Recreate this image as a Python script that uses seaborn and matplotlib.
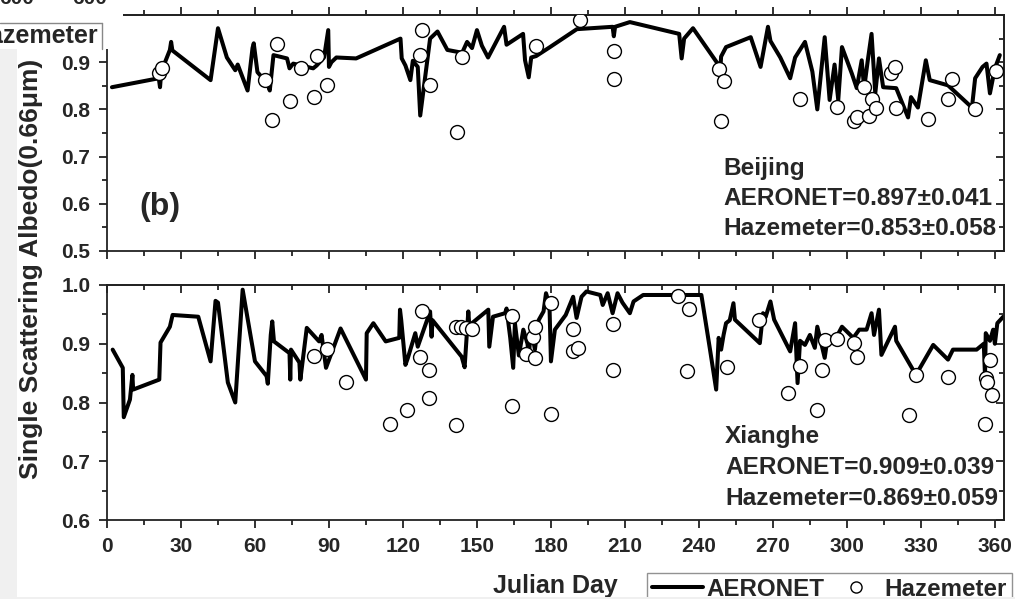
import numpy as np
import pandas as pd
import matplotlib
matplotlib.use("Agg")
import matplotlib.pyplot as plt
import seaborn as sns
from matplotlib.lines import Line2D
from matplotlib.patches import Rectangle
from matplotlib.ticker import MultipleLocator

# ---------------- data ----------------
bj_aero_day = [2, 21, 21.5, 22, 25.5, 26, 26.5, 42, 45, 48.6, 52, 53, 57, 59, 59.5, 61, 65, 66, 67.5, 73, 74,
               75.5, 83.6, 85, 88, 89.7, 90, 91, 93, 101, 119, 119.5, 121, 123, 124, 126, 127, 131, 134, 138,
               144, 146, 148, 150, 152, 154.5, 161, 162, 168.7, 169.5, 171, 172, 174, 179.6, 190.5, 205,
               205.5, 206, 212, 232, 233, 234, 237.6, 248, 248.5, 249, 251, 261, 265, 268, 269, 273, 277,
               279, 283, 286, 288, 291, 293, 295, 296.5, 298, 302, 304, 306, 307, 308.5, 310, 311.5, 313,
               314.7, 320, 324.8, 326, 328.8, 332, 333.6, 341, 350.7, 352, 355, 356.6, 358, 360, 362]
bj_aero_ssa = [0.847, 0.866, 0.847, 0.880, 0.926, 0.943, 0.925, 0.862, 0.972, 0.910, 0.883, 0.895, 0.840,
               0.930, 0.940, 0.879, 0.855, 0.840, 0.915, 0.908, 0.887, 0.897, 0.887, 0.893, 0.910, 0.968,
               0.890, 0.900, 0.910, 0.908, 0.950, 0.908, 0.893, 0.862, 0.903, 0.890, 0.787, 0.950, 0.965,
               0.926, 0.920, 0.943, 0.930, 0.968, 0.935, 0.910, 0.975, 0.937, 0.960, 0.904, 0.868, 0.910,
               0.913, 0.932, 0.970, 0.975, 0.955, 0.975, 0.985, 0.960, 0.908, 0.950, 0.972, 0.894, 0.870,
               0.912, 0.932, 0.953, 0.890, 0.975, 0.945, 0.910, 0.866, 0.910, 0.943, 0.880, 0.800, 0.953,
               0.820, 0.895, 0.820, 0.932, 0.876, 0.845, 0.904, 0.845, 0.905, 0.960, 0.834, 0.908, 0.847,
               0.845, 0.783, 0.826, 0.804, 0.904, 0.862, 0.851, 0.804, 0.866, 0.890, 0.897, 0.834, 0.887,
               0.915]

bj_haze_day = [21.2, 22.4, 64, 67, 69, 74, 78.7, 83.8, 85, 89, 127, 127.7, 131, 142, 144, 174, 191.8, 205.5,
               205.5, 248, 249, 250, 281, 296, 303, 304, 307, 309, 310, 312, 318, 319.5, 320, 333, 341,
               342.6, 352, 360.4]
bj_haze_ssa = [0.877, 0.887, 0.863, 0.778, 0.938, 0.817, 0.887, 0.826, 0.913, 0.851, 0.915, 0.968, 0.851,
               0.753, 0.911, 0.934, 0.989, 0.924, 0.864, 0.885, 0.775, 0.860, 0.823, 0.806, 0.775, 0.783,
               0.847, 0.787, 0.821, 0.804, 0.878, 0.889, 0.804, 0.780, 0.821, 0.864, 0.800, 0.881]

xh_aero_day = [2.3, 6.4, 6.8, 9.3, 10.3, 10.6, 21.2, 21.7, 25.5, 26.6, 37, 42, 44, 45, 49, 52, 55, 60, 64.7,
               65.2, 66.4, 67, 67.7, 74, 74.3, 74.6, 78, 78.4, 81, 86, 87, 88.8, 94.7, 105, 105.3, 108, 113,
               118.5, 118.8, 119.3, 121, 122, 125, 126, 131, 131.6, 132, 143.8, 145, 146.5, 147, 148, 154.6,
               155, 156.5, 161.4, 162, 163.5, 164.7, 165.4, 167, 168.8, 170.5, 171, 172, 173.5, 175, 177,
               178, 179.4, 180, 181.6, 186, 189, 190.4, 192.4, 194.4, 200, 201, 203, 205, 207, 209, 212,
               213.5, 217.4, 241, 244.5, 247, 248, 249, 250, 251, 252.5, 254, 254.6, 264.7, 266, 267, 269,
               270.5, 277, 279, 280, 281, 283, 285, 287, 288, 291, 292, 294.5, 298, 302.6, 305, 308, 310,
               311, 313, 314, 319.5, 320, 328, 335, 341, 343, 352.6, 355.5, 356, 356.3, 358, 359.3, 360,
               361, 363.4]
xh_aero_ssa = [0.890, 0.859, 0.775, 0.805, 0.847, 0.822, 0.839, 0.902, 0.929, 0.949, 0.946, 0.870, 0.973,
               0.970, 0.834, 0.800, 0.992, 0.870, 0.845, 0.832, 0.915, 0.938, 0.904, 0.884, 0.839, 0.890,
               0.868, 0.839, 0.927, 0.904, 0.915, 0.859, 0.926, 0.839, 0.918, 0.935, 0.904, 0.910, 0.958,
               0.940, 0.864, 0.876, 0.918, 0.895, 0.955, 0.912, 0.940, 0.878, 0.860, 0.955, 0.925, 0.935,
               0.958, 0.895, 0.946, 0.952, 0.960, 0.910, 0.859, 0.935, 0.880, 0.924, 0.900, 0.880, 0.927,
               0.890, 0.940, 0.955, 0.986, 0.966, 0.870, 0.924, 0.949, 0.980, 0.944, 0.980, 0.989, 0.983,
               0.966, 0.986, 0.952, 0.986, 0.970, 0.952, 0.972, 0.983, 0.983, 0.890, 0.822, 0.910, 0.890,
               0.915, 0.935, 0.940, 0.969, 0.941, 0.901, 0.952, 0.945, 0.972, 0.941, 0.887, 0.935, 0.833,
               0.905, 0.898, 0.915, 0.893, 0.929, 0.876, 0.905, 0.901, 0.929, 0.910, 0.924, 0.924, 0.952,
               0.915, 0.958, 0.881, 0.929, 0.905, 0.847, 0.898, 0.873, 0.890, 0.890, 0.900, 0.845, 0.918,
               0.905, 0.924, 0.900, 0.935, 0.946]

xh_haze_day = [84, 89, 97, 114.7, 121.7, 127, 127.6, 130.7, 130.7, 141.5, 141.7, 143.5, 145.5, 147.8, 164.4,
               164.4, 170, 172.6, 173.5, 173.5, 180, 180, 189, 189, 190.8, 205, 205, 231.6, 235, 236, 251.5,
               264.5, 276, 281, 288, 290, 291, 296, 303, 304, 325, 328, 341, 356, 356.6, 356.7, 358, 359]
xh_haze_ssa = [0.880, 0.891, 0.835, 0.763, 0.788, 0.877, 0.955, 0.856, 0.808, 0.761, 0.928, 0.929, 0.927,
               0.925, 0.947, 0.794, 0.883, 0.911, 0.929, 0.876, 0.970, 0.781, 0.925, 0.887, 0.893, 0.934,
               0.855, 0.981, 0.853, 0.959, 0.861, 0.940, 0.817, 0.862, 0.788, 0.856, 0.906, 0.908, 0.902,
               0.878, 0.778, 0.847, 0.844, 0.763, 0.842, 0.835, 0.872, 0.812]

x_ticks = [0, 30, 60, 90, 120, 150, 180, 210, 240, 270, 300, 330, 360]
top_yticks = [0.5, 0.6, 0.7, 0.8, 0.9]
bot_yticks = [0.6, 0.7, 0.8, 0.9, 1.0]

# ---------------- style ----------------
sns.set_style("ticks")
plt.rcParams['font.family'] = ['Liberation Sans', 'DejaVu Sans']
plt.rcParams['font.weight'] = 'bold'

W, H = 1015, 599
fig = plt.figure(figsize=(W / 100, H / 100), dpi=100)
fig.patch.set_facecolor('white')

def fx(px):
    return px / W

def fy(py):
    return 1 - py / H

ax_top = fig.add_axes([fx(107), fy(251), fx(1004) - fx(107), fy(15) - fy(251)])
ax_bot = fig.add_axes([fx(107), fy(520), fx(1004) - fx(107), fy(285) - fy(520)])

LW = 2.9
for ax, ad, av, hd, hv in [(ax_top, bj_aero_day, bj_aero_ssa, bj_haze_day, bj_haze_ssa),
                           (ax_bot, xh_aero_day, xh_aero_ssa, xh_haze_day, xh_haze_ssa)]:
    dfa = pd.DataFrame({'day': ad, 'ssa': av})
    dfh = pd.DataFrame({'day': hd, 'ssa': hv})
    sns.lineplot(data=dfa, x='day', y='ssa', ax=ax, color='black', lw=LW, estimator=None,
                 sort=False, legend=False, zorder=2)
    sns.scatterplot(data=dfh, x='day', y='ssa', ax=ax, marker='o', s=100, facecolor='white',
                    edgecolor='black', linewidth=1.0, legend=False, zorder=3)
    ax.set_xlim(0, 363.7)
    ax.set_xlabel('')
    ax.set_ylabel('')
    ax.set_facecolor('white')
    for sp in ax.spines.values():
        sp.set_visible(True)
        sp.set_linewidth(1.3)
        sp.set_color('#222222')
    ax.set_xticks(x_ticks)
    ax.xaxis.set_minor_locator(MultipleLocator(15))
    ax.yaxis.set_minor_locator(MultipleLocator(0.05))
    ax.tick_params(which='major', length=6, width=1.3, color='#222222', labelsize=15, pad=6,
                   top=False, right=False, direction='out')
    ax.tick_params(which='minor', length=3.5, width=1.3, color='#222222', top=False, right=False,
                   direction='out')

ax_top.set_ylim(0.5, 1.0)
ax_top.set_yticks(top_yticks)
ax_top.set_yticklabels([f"{v:.1f}" for v in top_yticks], fontweight='bold')
ax_top.tick_params(axis='x', labelbottom=False)
ax_bot.set_ylim(0.6, 1.0)
ax_bot.set_yticks(bot_yticks)
ax_bot.set_yticklabels([f"{v:.1f}" for v in bot_yticks], fontweight='bold')
ax_bot.set_xticklabels([str(v) for v in x_ticks], fontweight='bold')

# top / right tick marks with their own directions
def side_ticks(ax, top_dir, yticks_major):
    sx = ax.secondary_xaxis('top')
    sx.set_xticks(x_ticks)
    sx.xaxis.set_minor_locator(MultipleLocator(15))
    sx.tick_params(which='major', direction=top_dir, length=6, width=1.3, color='#222222', labeltop=False)
    sx.tick_params(which='minor', direction=top_dir, length=3.5, width=1.3, color='#222222')
    sx.spines['top'].set_linewidth(1.3)
    sy = ax.secondary_yaxis('right')
    sy.set_yticks(yticks_major)
    sy.yaxis.set_minor_locator(MultipleLocator(0.05))
    sy.tick_params(which='major', direction='in', length=6, width=1.3, color='#222222', labelright=False)
    sy.tick_params(which='minor', direction='in', length=3.5, width=1.3, color='#222222')
    sy.spines['right'].set_linewidth(1.3)

side_ticks(ax_top, 'out', [0.5, 0.6, 0.7, 0.8, 0.9, 1.0])
side_ticks(ax_bot, 'in', bot_yticks)

# annotations
aw = 897.0
FS_NOTE = 17.6
ax_top.text((723 - 107) / aw, (251 - 175) / 236, 'Beijing', transform=ax_top.transAxes,
            fontsize=FS_NOTE, fontweight='bold', va='baseline', ha='left')
ax_top.text((723 - 107) / aw, (251 - 205) / 236, 'AERONET=0.897±0.041', transform=ax_top.transAxes,
            fontsize=FS_NOTE, fontweight='bold', va='baseline', ha='left')
ax_top.text((723 - 107) / aw, (251 - 235) / 236, 'Hazemeter=0.853±0.058', transform=ax_top.transAxes,
            fontsize=FS_NOTE, fontweight='bold', va='baseline', ha='left')
ax_top.text((160 - 107) / aw, (251 - 207) / 236, '(b)', transform=ax_top.transAxes,
            fontsize=23, fontweight='bold', va='center', ha='center')

ax_bot.text((725 - 107) / aw, (520 - 443) / 235, 'Xianghe', transform=ax_bot.transAxes,
            fontsize=FS_NOTE, fontweight='bold', va='baseline', ha='left')
ax_bot.text((725 - 107) / aw, (520 - 474) / 235, 'AERONET=0.909±0.039', transform=ax_bot.transAxes,
            fontsize=FS_NOTE, fontweight='bold', va='baseline', ha='left')
ax_bot.text((725 - 107) / aw, (520 - 505) / 235, 'Hazemeter=0.869±0.059', transform=ax_bot.transAxes,
            fontsize=FS_NOTE, fontweight='bold', va='baseline', ha='left')

fig.text(fx(31), fy(269), 'Single Scattering Albedo(0.66μm)', rotation=90, fontsize=19,
         fontweight='bold', ha='center', va='center')
fig.text(fx(555), fy(593), 'Julian Day', fontsize=18, fontweight='bold', ha='center', va='baseline')

handles = [Line2D([], [], color='black', lw=LW),
           Line2D([], [], color='black', marker='o', markerfacecolor='white', markersize=8,
                  markeredgewidth=1.0, lw=0)]
leg = fig.legend(handles, ['AERONET', 'Hazemeter'], loc='upper left',
                 bbox_to_anchor=(fx(647), fy(573)), borderaxespad=0, ncol=2, frameon=True,
                 fancybox=False, prop={'weight': 'bold', 'size': 17.4},
                 handlelength=2.1, handletextpad=0.15, columnspacing=0.25, borderpad=0.2)
leg.get_frame().set_edgecolor('#777777')
leg.get_frame().set_linewidth(1.0)

# screenshot overlay artefacts
GRAY = '#f0f0f0'
fig.add_artist(Rectangle((0, fy(49)), fx(123), fy(6) - fy(49), transform=fig.transFigure,
                         facecolor='white', edgecolor='none', zorder=20))
fig.add_artist(Line2D([0, fx(102)], [fy(23), fy(23)], transform=fig.transFigure, color='#888888',
                      lw=1.0, zorder=21))
fig.add_artist(Line2D([fx(102), fx(102)], [fy(23), fy(49)], transform=fig.transFigure, color='#888888',
                      lw=1.0, zorder=21))
fig.text(fx(98), fy(43), 'Hazemeter', fontsize=18, fontweight='bold', ha='right', va='baseline', zorder=22)
fig.text(fx(17), fy(4), '600', fontsize=15, fontweight='bold', ha='center', va='baseline', zorder=22)
fig.text(fx(90), fy(4), '600', fontsize=15, fontweight='bold', ha='center', va='baseline', zorder=22)
fig.add_artist(Rectangle((0, 0), fx(17), fy(49), transform=fig.transFigure,
                         facecolor=GRAY, edgecolor='none', zorder=23))
fig.add_artist(Rectangle((0, 0), 1, fy(597), transform=fig.transFigure,
                         facecolor=GRAY, edgecolor='none', zorder=23))

fig.savefig('out.png', dpi=100, facecolor=fig.get_facecolor())
